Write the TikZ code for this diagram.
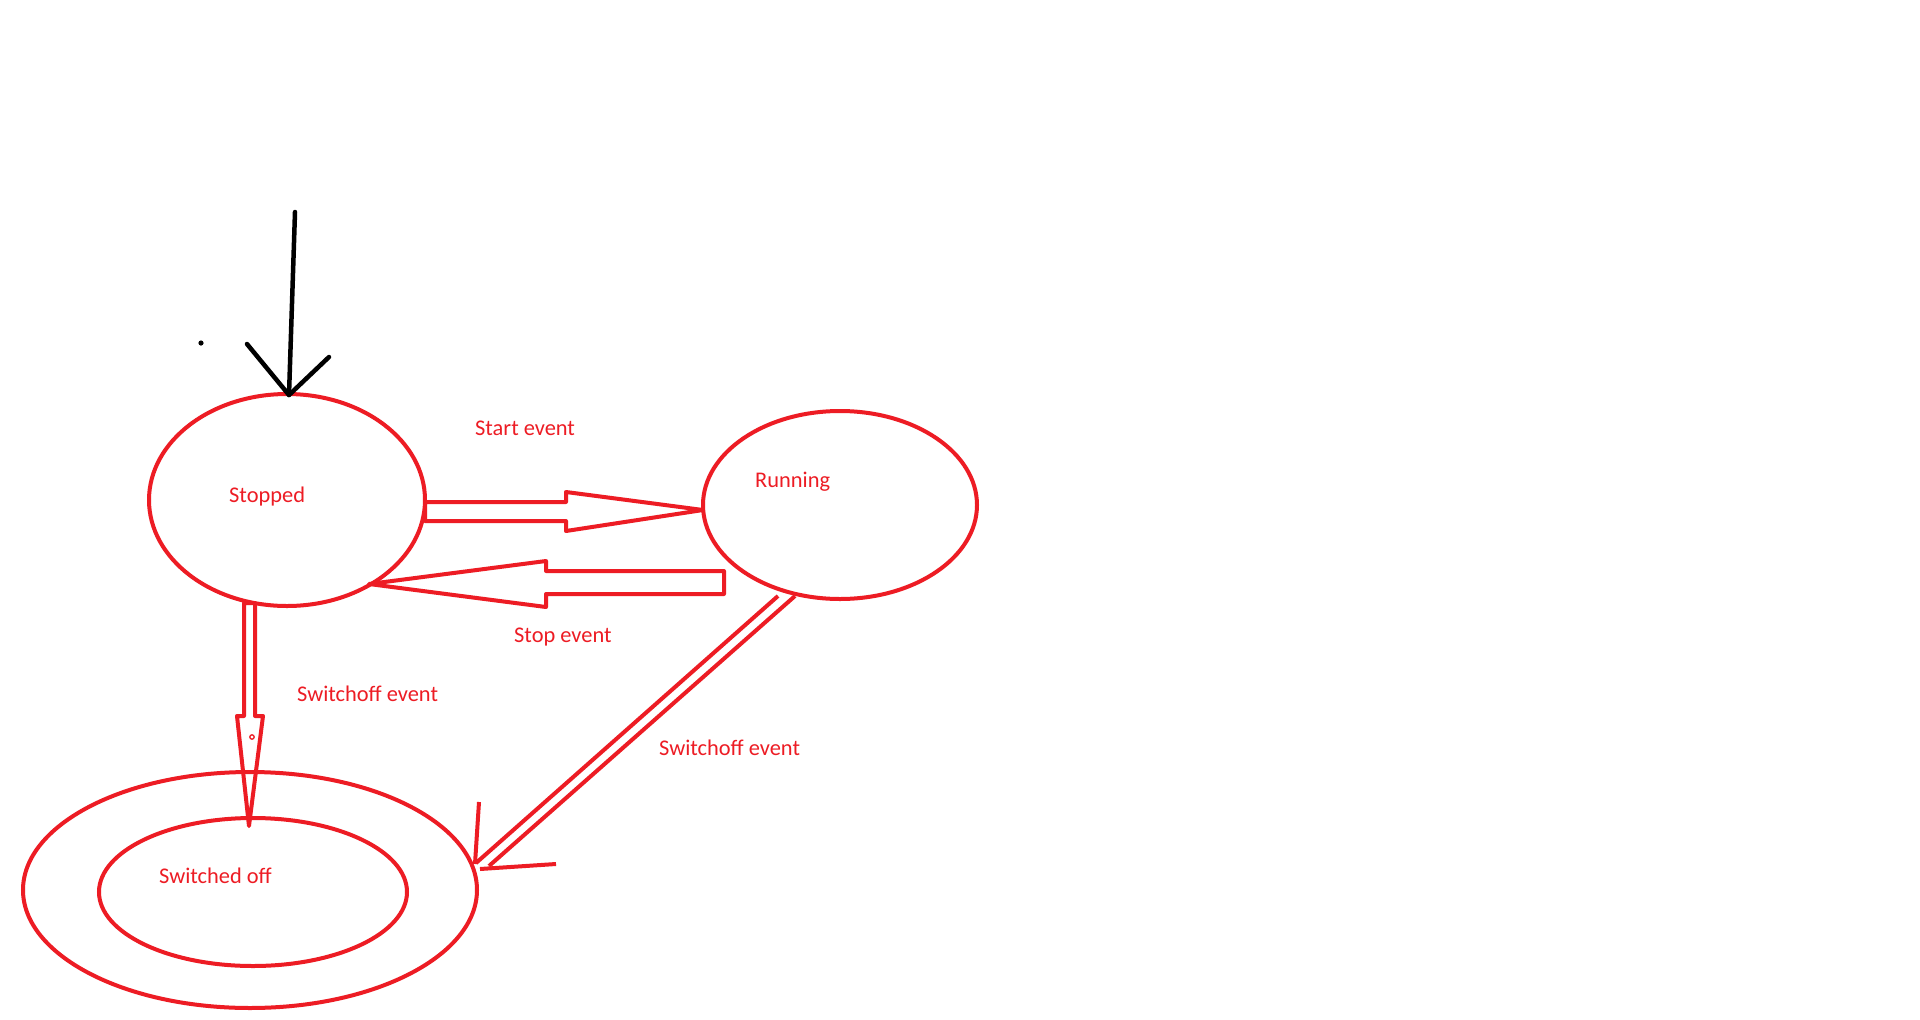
\documentclass[tikz,border=0pt]{standalone}
\usepackage{fontspec}
\setmainfont{Carlito}
\usetikzlibrary{shapes.geometric}
\definecolor{pred}{HTML}{ED1C24}
\begin{document}
\begin{tikzpicture}[x=1pt,y=-1pt,
  st/.style={ellipse, draw=pred, line width=4pt, inner sep=0pt},
  lbl/.style={text=pred, anchor=base west, inner sep=0pt, font=\fontsize{22.4}{27}\selectfont},
  redline/.style={draw=pred, line width=4pt, line join=round},
  blk/.style={draw=black, line width=4.5pt, line cap=round, line join=round}]
\useasboundingbox[fill=white] (0,0) rectangle (1920,1020);

% states
\node[st, minimum width=276pt, minimum height=212pt] (stopped) at (287,500) {};
\node[st, minimum width=274pt, minimum height=188pt] (running) at (840,505) {};
\node[st, minimum width=454pt, minimum height=236pt] (offout) at (250,890) {};
\node[st, minimum width=308pt, minimum height=148pt] (offin) at (253,892) {};

% labels
\node[lbl] (lstopped) at (229,502) {Stopped};
\node[lbl] (lrunning) at (755,487) {Running};
\node[lbl] (loff) at (159,883) {Switched off};
\node[lbl] (lstart) at (475,435) {Start event};
\node[lbl] (lstop) at (514,642) {Stop event};
\node[lbl] (lsw1) at (297,701) {Switchoff event};
\node[lbl] (lsw2) at (659,755) {Switchoff event};

% initial arrow
\coordinate (itop) at (295,212);
\coordinate (itip) at (289,395);
\coordinate (iwl) at (247,344);
\coordinate (iwr) at (329,357);
\draw[blk] (itop) -- (itip);
\draw[blk] (iwl) -- (itip) -- (iwr);
\fill (201,343) circle (2.6pt);

% start event arrow (Stopped -> Running)
\draw[redline] (425,502) -- (566,502) -- (566,492) -- (703,510) -- (566,531) -- (566,521) -- (425,521) -- cycle;

% stop event arrow (Running -> Stopped)
\draw[redline] (369,584) -- (546,561) -- (546,571) -- (724,571) -- (724,594) -- (546,594) -- (546,607) -- cycle;

% switchoff arrow (Stopped -> Switched off)
\draw[redline] (244,603) -- (244,716) -- (237,716) -- (249,826) -- (263,716) -- (255,716) -- (255,603) -- cycle;
\draw[draw=pred, line width=1.3pt] (252,737) circle (2.2pt);

% switchoff arrow (Running -> Switched off)
\draw[redline] (778,596) -- (476,863);
\draw[redline] (795,596) -- (489,866);
\draw[redline] (479,802) -- (475,864);
\draw[redline] (480,869) -- (556,864);
\end{tikzpicture}
\end{document}
